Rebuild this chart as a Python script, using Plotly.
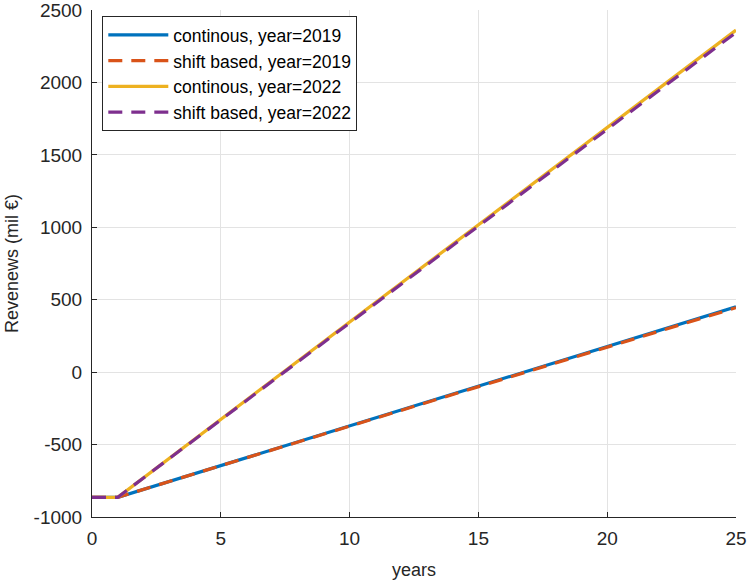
import plotly.graph_objects as go

# Revenue over project lifetime (mil €), breakpoints of each piecewise-linear series
years_2019 = [0, 1, 25]
cont_2019 = [-864, -864, 451]
shift_2019 = [-864, -864, 445]

years_2022 = [0, 1, 25]
cont_2022 = [-864, -864, 2361]
shift_2022 = [-864, -864, 2345]

x_ticks = [0, 5, 10, 15, 20, 25]
y_ticks = [-1000, -500, 0, 500, 1000, 1500, 2000, 2500]
y_tick_labels = ["-1000", "-500", "0", "500", "1000", "1500", "2000", "2500"]

series = [
    ("continous, year=2019", years_2019, cont_2019, "#0072BD", "solid"),
    ("shift based, year=2019", years_2019, shift_2019, "#D95319", "dash"),
    ("continous, year=2022", years_2022, cont_2022, "#EDB120", "solid"),
    ("shift based, year=2022", years_2022, shift_2022, "#7E2F8E", "dash"),
]

fig = go.Figure()
for name, xs, ys, color, dash in series:
    fig.add_trace(go.Scatter(
        x=xs, y=ys, mode="lines", name=name,
        line=dict(color=color, width=3.2, dash="14px,9px" if dash == "dash" else "solid"),
    ))

font_family = "Liberation Sans, Arial, sans-serif"
axis_common = dict(
    showgrid=True, gridcolor="#E3E3E3", gridwidth=1,
    showline=True, linecolor="#262626", linewidth=1,
    ticks="inside", ticklen=5, tickcolor="#262626",
    zeroline=False, mirror=False,
    ticklabeloverflow="allow",
    tickfont=dict(family=font_family, size=19, color="#262626"),
)

fig.update_layout(
    width=747, height=581,
    margin=dict(l=92, r=11, t=10, b=64),
    paper_bgcolor="white", plot_bgcolor="white",
    font=dict(family=font_family, color="#262626"),
    xaxis=dict(
        range=[0, 25], tickvals=x_ticks, ticklabelstandoff=4,
        automargin=False,
        title=dict(text="years", font=dict(size=18, color="#262626")),
        **axis_common,
    ),
    yaxis=dict(
        range=[-1000, 2500], tickvals=y_ticks, ticktext=y_tick_labels,
        ticklabelstandoff=5, automargin="left",
        title=dict(text="Revenews (mil €)", font=dict(size=18, color="#262626"), standoff=10),
        **axis_common,
    ),
    legend=dict(
        x=0.016, y=0.988, xanchor="left", yanchor="top",
        bgcolor="white", bordercolor="#262626", borderwidth=1,
        font=dict(family=font_family, size=17.5, color="#000000"),
        tracegroupgap=0, itemwidth=60,
    ),
)

fig.write_html("out.html")
